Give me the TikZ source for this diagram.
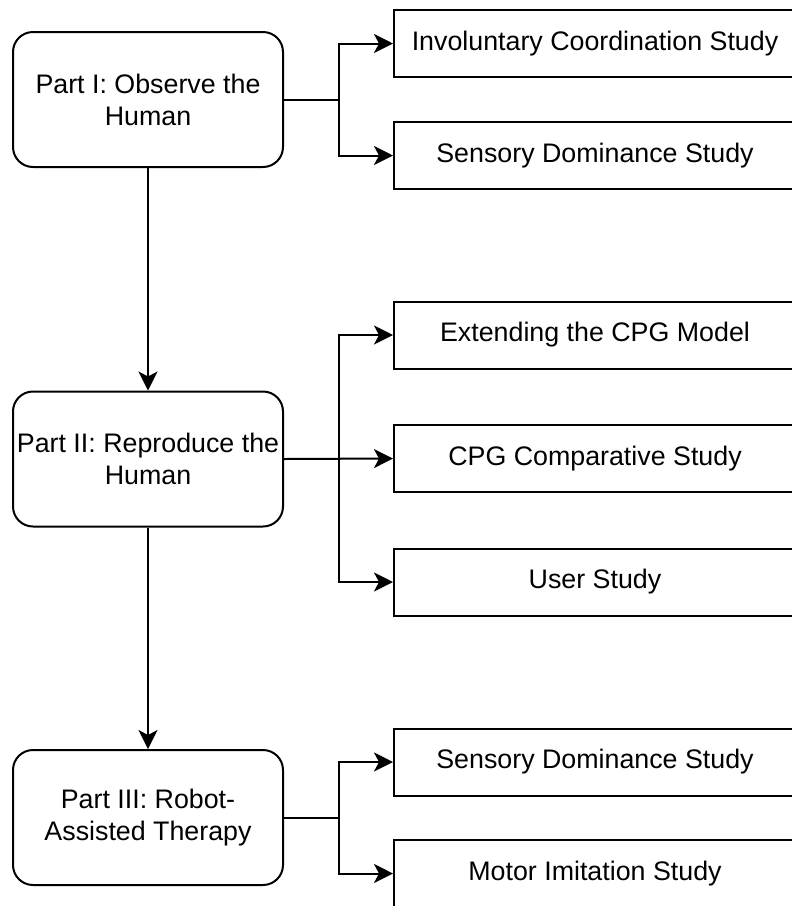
\documentclass[tikz,border=0pt]{standalone}
\usepackage{fontspec}
\setmainfont{Liberation Sans}
\usetikzlibrary{arrows.meta, positioning}

\begin{document}
\begin{tikzpicture}[
			 x=1pt, y=-1pt,
			 font=\fontsize{26.8}{32}\selectfont,
			 every node/.style={anchor=center, align=center, inner sep=0pt},
			 part/.style={draw, line width=2pt, rounded corners=20pt, minimum width=270pt, minimum height=135pt},
			 study/.style={draw, line width=2pt, minimum width=402pt, minimum height=67pt},
			 to/.style={-{Stealth[length=19pt, width=19pt, inset=5pt]}, line width=2pt}
			 ]

			 \useasboundingbox (0,0) rectangle (792,906);

			 \node[part] (observe) at (148,99.5) {Part I: Observe the\\Human};
			 \node[part] (reproduce) at (148,459) {Part II: Reproduce the\\Human};
			 \node[part] (therapy) at (148,817.5) {Part III: Robot-\\Assisted Therapy};

			 \node[study] (coord) at (595,43.5) {Involuntary Coordination Study};
			 \node[study] (sensory) at (595,155.5) {Sensory Dominance Study};
			 \node[study] (cpgmodel) at (595,335) {Extending the CPG Model};
			 \node[study] (cpgcomp) at (595,458.5) {CPG Comparative Study};
			 \node[study] (user) at (595,582) {User Study};
			 \node[study] (sensory2) at (595,762) {Sensory Dominance Study};
			 \node[study] (motor) at (595,873.5) {Motor Imitation Study};

			 \draw[to] (observe.south) -- (reproduce.north);
			 \draw[to] (reproduce.south) -- (therapy.north);

			 \draw[to] (observe.east) -- ++(55,0) |- (coord.west);
			 \draw[to] (observe.east) -- ++(55,0) |- (sensory.west);
			 \draw[to] (reproduce.east) -- ++(55,0) |- (cpgmodel.west);
			 \draw[to] (reproduce.east) -- (cpgcomp.west);
			 \draw[to] (reproduce.east) -- ++(55,0) |- (user.west);
			 \draw[to] (therapy.east) -- ++(55,0) |- (sensory2.west);
			 \draw[to] (therapy.east) -- ++(55,0) |- (motor.west);

		\end{tikzpicture}
\end{document}
